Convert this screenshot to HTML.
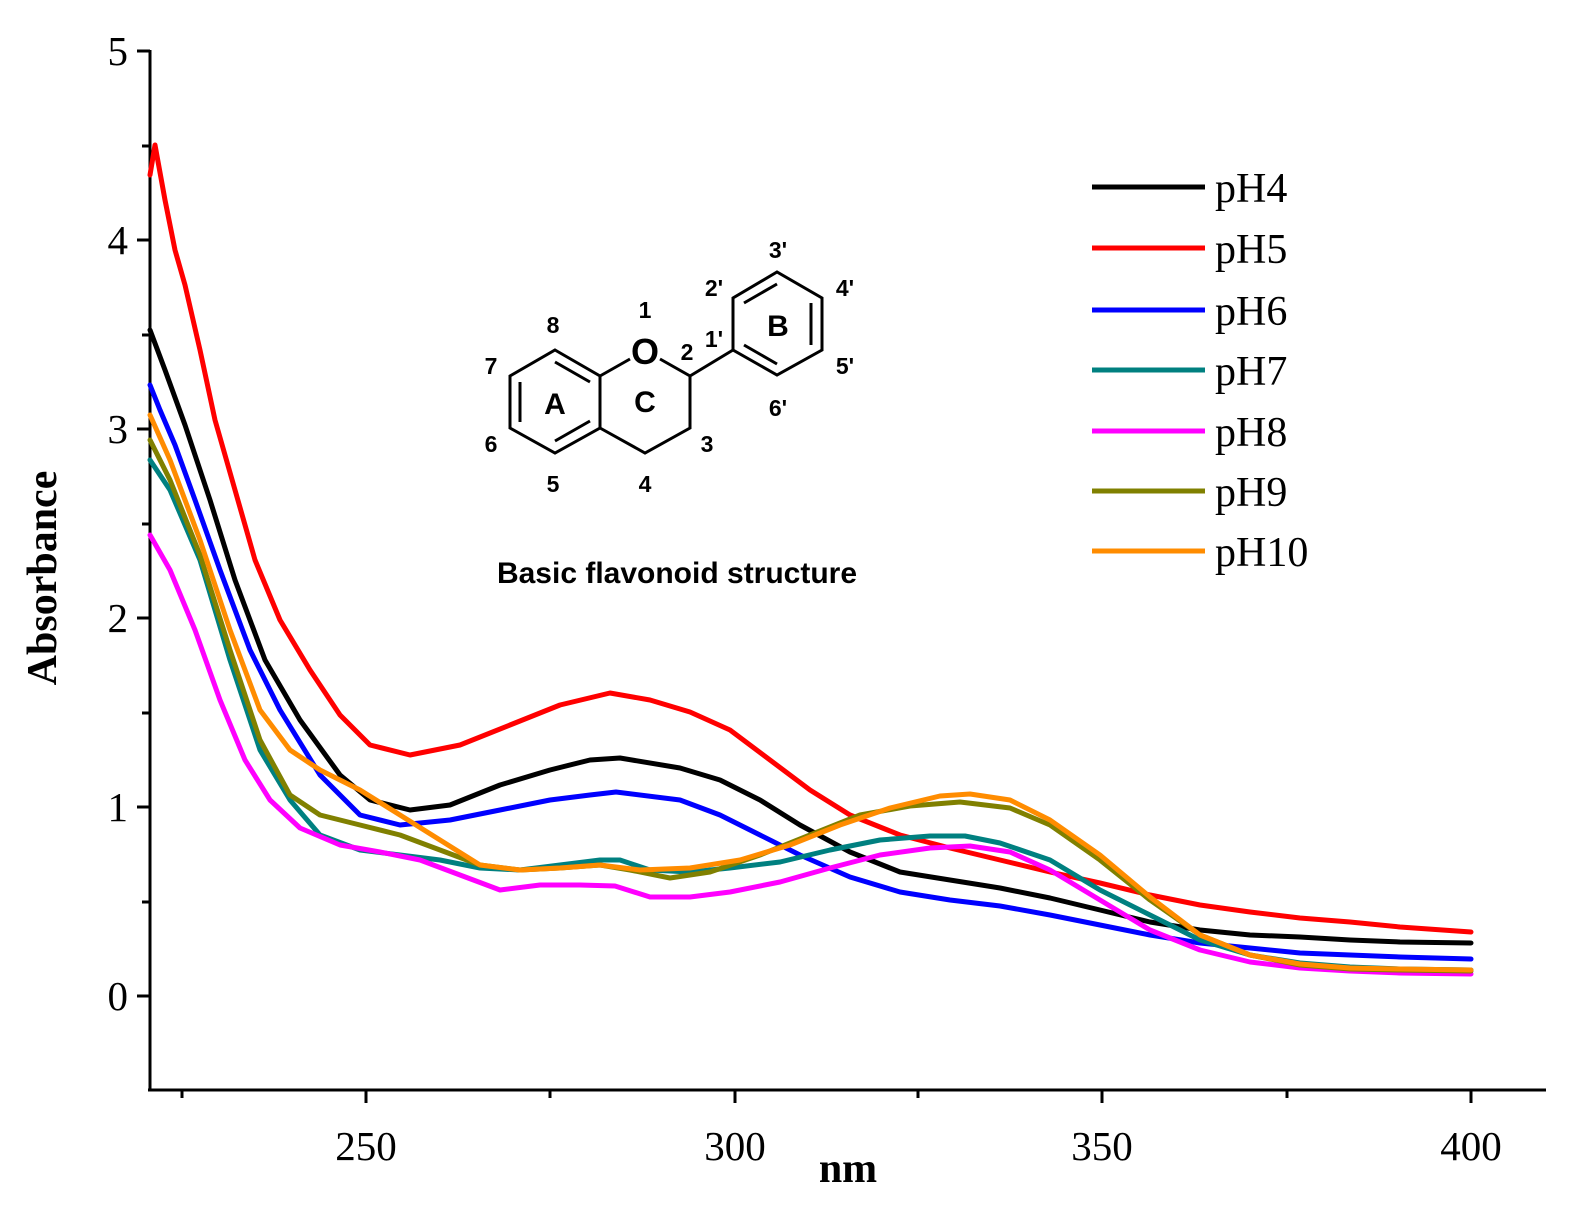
<!DOCTYPE html>
<html><head><meta charset="utf-8"><style>body{margin:0;background:#fff}</style></head><body>
<svg width="1578" height="1218" xmlns="http://www.w3.org/2000/svg" style="display:block">
<g stroke="#000" stroke-width="3" fill="none">
<line x1="150" y1="50" x2="150" y2="1091"/>
<line x1="148" y1="1090" x2="1546" y2="1090"/>
<line x1="150" y1="51" x2="137" y2="51"/><line x1="150" y1="240" x2="137" y2="240"/><line x1="150" y1="429" x2="137" y2="429"/><line x1="150" y1="618" x2="137" y2="618"/><line x1="150" y1="807" x2="137" y2="807"/><line x1="150" y1="996" x2="137" y2="996"/>
<line x1="150" y1="146" x2="142" y2="146"/><line x1="150" y1="335" x2="142" y2="335"/><line x1="150" y1="524" x2="142" y2="524"/><line x1="150" y1="713" x2="142" y2="713"/><line x1="150" y1="902" x2="142" y2="902"/>
<line x1="366" y1="1090" x2="366" y2="1103"/><line x1="735" y1="1090" x2="735" y2="1103"/><line x1="1102" y1="1090" x2="1102" y2="1103"/><line x1="1471" y1="1090" x2="1471" y2="1103"/>
<line x1="182" y1="1090" x2="182" y2="1098"/><line x1="550" y1="1090" x2="550" y2="1098"/><line x1="918" y1="1090" x2="918" y2="1098"/><line x1="1287" y1="1090" x2="1287" y2="1098"/>
</g>
<g font-family="Liberation Serif, serif" font-size="41" text-anchor="end">
<text x="128" y="65">5</text><text x="128" y="254">4</text><text x="128" y="443">3</text><text x="128" y="632">2</text><text x="128" y="821">1</text><text x="128" y="1010">0</text>
</g>
<g font-family="Liberation Serif, serif" font-size="41" text-anchor="middle">
<text x="366" y="1160">250</text><text x="735" y="1160">300</text><text x="1102" y="1160">350</text><text x="1471" y="1160">400</text>
</g>
<text x="848" y="1182" font-family="Liberation Serif, serif" font-size="42" font-weight="bold" text-anchor="middle">nm</text>
<text transform="translate(56,578) rotate(-90)" font-family="Liberation Serif, serif" font-size="42" font-weight="bold" text-anchor="middle">Absorbance</text>
<g fill="none" stroke-width="5" stroke-linejoin="round" stroke-linecap="round">
<polyline stroke="#000" points="150,330 165,370 185,425 210,500 235,580 265,660 300,720 340,775 370,800 410,810 450,805 500,785 550,770 590,760 620,758 680,768 720,780 760,800 800,825 850,852 900,872 950,880 1000,888 1050,898 1100,910 1150,922 1200,930 1250,935 1300,937 1350,940 1400,942 1471,943"/>
<polyline stroke="#f00" points="150,175 155,145 165,200 175,250 185,285 200,350 215,420 235,490 255,560 280,620 310,670 340,715 370,745 410,755 460,745 510,725 560,705 610,693 650,700 690,712 730,730 770,760 810,790 850,815 900,835 950,848 1000,860 1050,872 1100,883 1150,895 1200,905 1250,912 1300,918 1350,922 1400,927 1471,932"/>
<polyline stroke="#00f" points="150,385 160,410 175,445 195,500 220,570 250,650 280,710 320,775 360,815 400,825 450,820 500,810 550,800 590,795 616,792 680,800 720,815 760,835 800,855 850,877 900,892 950,900 1000,906 1050,915 1100,925 1150,935 1200,943 1250,948 1300,953 1350,955 1400,957 1471,959"/>
<polyline stroke="#008080" points="150,460 170,490 200,560 230,660 260,750 290,800 320,835 360,850 400,855 440,860 480,868 520,870 560,865 600,860 620,860 650,870 690,872 730,868 780,862 830,850 880,840 930,836 965,836 1000,843 1050,860 1100,890 1150,915 1200,940 1250,955 1300,963 1350,967 1400,969 1471,970"/>
<polyline stroke="#f0f" points="150,535 170,570 195,630 220,700 245,760 270,800 300,828 340,845 380,852 420,860 460,875 500,890 540,885 580,885 615,886 650,897 690,897 730,892 780,882 830,868 880,855 930,848 970,846 1010,852 1050,870 1100,900 1150,930 1200,950 1250,962 1300,968 1350,971 1400,973 1471,974"/>
<polyline stroke="#808000" points="150,440 170,480 200,555 230,650 260,740 290,795 320,815 360,825 400,835 440,850 480,865 520,870 560,868 600,865 630,870 670,878 710,872 760,855 810,835 860,815 910,806 960,802 1010,808 1050,825 1100,860 1150,900 1200,935 1250,955 1300,965 1350,969 1400,970 1471,971"/>
<polyline stroke="#ff8c00" points="150,415 170,460 200,540 230,630 260,710 290,750 320,770 360,790 400,815 440,840 480,865 520,870 560,868 600,865 640,870 690,868 740,860 790,845 840,825 890,808 940,796 970,794 1010,800 1050,820 1100,855 1150,897 1200,935 1250,955 1300,964 1350,968 1400,969 1471,970"/>
</g>
<g stroke-width="5">
<line x1="1092" y1="187" x2="1205" y2="187" stroke="#000"/>
<line x1="1092" y1="248" x2="1205" y2="248" stroke="#f00"/>
<line x1="1092" y1="310" x2="1205" y2="310" stroke="#00f"/>
<line x1="1092" y1="370" x2="1205" y2="370" stroke="#008080"/>
<line x1="1092" y1="431" x2="1205" y2="431" stroke="#f0f"/>
<line x1="1092" y1="491" x2="1205" y2="491" stroke="#808000"/>
<line x1="1092" y1="551" x2="1205" y2="551" stroke="#ff8c00"/>
</g>
<g font-family="Liberation Serif, serif" font-size="42">
<text x="1215" y="202">pH4</text><text x="1215" y="263">pH5</text><text x="1215" y="325">pH6</text><text x="1215" y="385">pH7</text><text x="1215" y="446">pH8</text><text x="1215" y="506">pH9</text><text x="1215" y="566">pH10</text>
</g>
<g stroke="#000" stroke-width="3" fill="none">
<polygon points="555,350 600,376 600,428 555,453 510,428 510,376"/>
<line x1="555" y1="362" x2="590" y2="382"/><line x1="520" y1="382" x2="520" y2="422"/><line x1="555" y1="441" x2="590" y2="421"/>
<polyline points="600,376 630,359"/><polyline points="660,359 690,376 690,428 645,453 600,428"/>
<line x1="690" y1="376" x2="733" y2="350"/>
<polygon points="733,350 733,298 777,272 822,298 822,350 777,375"/>
<line x1="744" y1="303" x2="777" y2="284"/><line x1="811" y1="303" x2="811" y2="345"/><line x1="744" y1="345" x2="777" y2="364"/>
</g>
<g font-family="Liberation Sans, sans-serif" font-weight="bold" text-anchor="middle">
<text x="645" y="364" font-size="36">O</text>
<text x="555" y="414" font-size="30">A</text><text x="645" y="412" font-size="30">C</text><text x="778" y="336" font-size="30">B</text>
<g font-size="23">
<text x="553" y="333">8</text><text x="645" y="318">1</text><text x="687" y="360">2</text><text x="707" y="452">3</text><text x="645" y="492">4</text><text x="553" y="492">5</text><text x="491" y="452">6</text><text x="491" y="374">7</text>
<text x="714" y="347">1'</text><text x="714" y="296">2'</text><text x="778" y="258">3'</text><text x="845" y="296">4'</text><text x="845" y="374">5'</text><text x="778" y="416">6'</text>
</g>
<text x="677" y="583" font-size="30">Basic flavonoid structure</text>
</g>
</svg>
</body></html>
